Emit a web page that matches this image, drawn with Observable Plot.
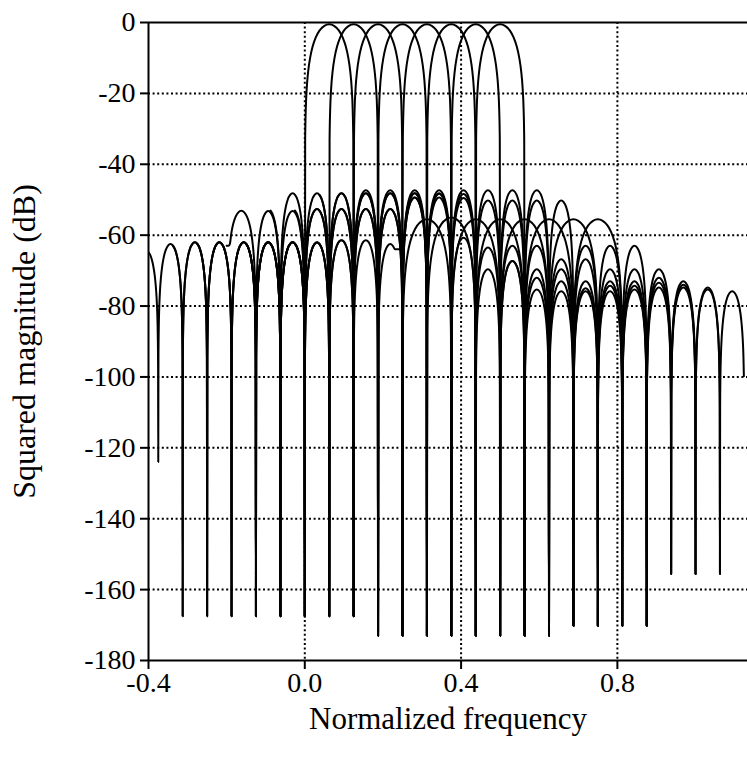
<!DOCTYPE html>
<html><head><meta charset="utf-8">
<script src="https://cdn.jsdelivr.net/npm/d3@7"></script>
<script src="https://cdn.jsdelivr.net/npm/@observablehq/plot@0.6"></script>
<style>body{margin:0;background:#fff}</style>
</head><body><div id="chart"></div>
<script>
// ---- axis ticks / grid ----
const xTicks = [-0.4, 0.0, 0.4, 0.8];
const yTicks = [0, -20, -40, -60, -80, -100, -120, -140, -160, -180];
const xGrid = [0.0, 0.4, 0.8];
const yGrid = [-20, -40, -60, -80, -100, -120, -140, -160];

// ---- null depths (frequency -> dB) ----
const nullFreq = [-0.4375,-0.375,-0.3125,-0.25,-0.1875,-0.125,-0.0625,0,0.0625,0.125,0.1875,0.25,0.3125,0.375,0.4375,0.5,0.5625,0.625,0.6875,0.75,0.8125,0.875,0.9375,1.0,1.0625,1.125];
const nullDb   = [-167.5,-124,-167.5,-167.5,-167.5,-167.5,-167.5,-167.5,-167.5,-167.5,-173,-173,-173,-173,-173,-173,-173,-173,-170.2,-170.2,-170.2,-170.2,-155.6,-155.6,-155.6,-160];

// ---- lobe shape template read from a sidelobe (relative position, drop in dB) ----
const lobeU    = [0.2, 0.4, 0.55, 0.68, 0.78, 0.86, 0.92, 0.96, 0.985];
const lobeDrop = [-0.45, -1.8, -3.7, -6.3, -9.4, -13.2, -18, -24, -32.6];

// ---- the eight channel responses: lobe edges (nulls) and lobe peaks (dB) ----
const c1Edges = [-0.4375,-0.375,-0.3125,-0.25,-0.1875,-0.125,-0.0625,0,0.125,0.1875,0.25,0.3125,0.375,0.4375,0.5,0.5625,0.625];
const c1Peaks = [-64.3,-62.5,-62,-62,-62,-62,-62,-0.5,-47.3,-47.3,-47.3,-47.3,-47.3,-47.3,-47.3,-47.3];
const c2Edges = [-0.375,-0.3125,-0.25,-0.1875,-0.125,-0.0625,0,0.0625,0.1875,0.25,0.375,0.5,0.625,0.75];
const c2Peaks = [-62.5,-62,-62,-62,-62,-62,-62.1,-0.5,-52.6,-55.5,-55.5,-55.5,-55.5];
const c3Edges = [-0.3125,-0.25,-0.1875,-0.125,-0.0625,0,0.0625,0.125,0.25,0.3125,0.4375,0.5625,0.6875,0.8125];
const c3Peaks = [-62,-62,-62,-62,-62,-62,-61.4,-0.5,-49.4,-55,-55.5,-55.5,-55.5];
const c4Edges = [[-0.2,-63],-0.125,-0.0625,0,0.0625,0.125,0.1875,0.3125,0.375,0.4375,0.5,0.5625,0.625,0.6875,0.75,0.8125,0.875];
const c4Peaks = [-53.1,-53.2,-53.2,-52.6,-52.6,-52.6,-0.5,-49.4,-49.5,-50.2,-50.2,-50.2,-50.2,-63,-63,-63];
const c5Edges = [-0.1875,-0.125,-0.0625,0,0.0625,0.125,0.1875,[0.25,-64],0.375,0.4375,0.5,0.5625,0.625,0.6875,0.75,0.8125,0.875,0.9375];
const c5Peaks = [-62,-62,-62,-62.1,-61.4,-61.4,-62.5,-0.5,-60.7,-63.5,-63,-63,-66.8,-66.8,-69.6,-69.6,-69.6];
const c6Edges = [-0.125,-0.0625,0,0.0625,0.125,0.1875,0.25,0.3125,0.4375,0.5,0.5625,0.625,0.6875,0.75,0.8125,0.875,0.9375,1.0];
const c6Peaks = [-52.6,-48.2,-48.2,-48.2,-48.2,-48.2,-48.2,-0.5,-69.6,-67.3,-69.6,-69.6,-73,-73,-73,-72,-73];
const c7Edges = [-0.0625,0,0.0625,0.125,0.1875,0.25,0.3125,0.375,0.5,0.5625,0.625,0.6875,0.75,0.8125,0.875,0.9375,1.0,1.0625];
const c7Peaks = [-52.6,-52.6,-52.6,-52.6,-52.6,-49.4,-48.3,-0.5,-67.3,-72,-73,-75,-74.3,-74.3,-73.4,-74,-74.8];
const c8Edges = [0,0.0625,0.125,0.1875,0.25,0.3125,0.375,0.4375,0.5625,0.625,0.6875,0.75,0.8125,0.875,0.9375,1.0,1.0625,1.125];
const c8Peaks = [-48.2,-48.2,-48.2,-48.2,-48.2,-48.2,-48.4,-0.5,-75.3,-75.8,-75.8,-75.8,-75.3,-74.8,-74.8,-75.3,-75.8];
const curveStart = [-0.4, -0.3375, -0.275, -0.2, -0.15, -0.0875, -0.025, 0.0375];
const curveEnd   = [0.625, 0.75, 0.8125, 0.875, 0.9375, 1.0, 1.0625, 1.124];

const curveDefs = [
  [c1Edges, c1Peaks], [c2Edges, c2Peaks], [c3Edges, c3Peaks], [c4Edges, c4Peaks],
  [c5Edges, c5Peaks], [c6Edges, c6Peaks], [c7Edges, c7Peaks], [c8Edges, c8Peaks]
];

function nullDepthAt(f) {
  const i = nullFreq.findIndex(n => Math.abs(n - f) < 1e-6);
  return i >= 0 ? nullDb[i] : -160;
}

function buildCurve(id, edges, peaks, start, end) {
  const E = edges.map(e => Array.isArray(e) ? e : [e, nullDepthAt(e)]);
  const pts = [];
  for (let i = 0; i < peaks.length; i++) {
    const [f0, d0] = E[i], [f1, d1] = E[i + 1];
    const c = (f0 + f1) / 2, h = (f1 - f0) / 2, P = peaks[i];
    if (i === 0) pts.push({f: f0, db: d0});
    for (let j = lobeU.length - 1; j >= 0; j--) pts.push({f: c - lobeU[j] * h, db: Math.max(P + lobeDrop[j], d0)});
    pts.push({f: c, db: P});
    for (let j = 0; j < lobeU.length; j++) pts.push({f: c + lobeU[j] * h, db: Math.max(P + lobeDrop[j], d1)});
    pts.push({f: f1, db: d1});
  }
  return pts.filter(p => p.f >= start - 1e-9 && p.f <= end + 1e-9).map(p => ({...p, curve: id}));
}

const table = curveDefs.flatMap(([e, p], i) => buildCurve(i + 1, e, p, curveStart[i], curveEnd[i]));

const dotted = {stroke: "black", strokeWidth: 2, strokeDasharray: "2,2.6"};

const chart = Plot.plot({
  width: 747,
  height: 760,
  marginLeft: 148,
  marginRight: 0,
  marginTop: 22,
  marginBottom: 100,
  style: {fontFamily: "'Liberation Serif', 'Times New Roman', serif", fontSize: "28px", color: "black", background: "white"},
  x: {domain: [-0.4, 1.133]},
  y: {domain: [-180, 0]},
  marks: [
    Plot.ruleY(yGrid, dotted),
    Plot.ruleX(xGrid, dotted),
    Plot.line(table, {x: "f", y: "db", z: "curve", stroke: "black", strokeWidth: 2, curve: "monotone-x", clip: true}),
    Plot.ruleY([0, -180], {stroke: "black", strokeWidth: 2}),
    Plot.ruleX([-0.4], {stroke: "black", strokeWidth: 2}),
    Plot.axisX({ticks: xTicks, tickFormat: d => d.toFixed(1), tickSize: 9, tickPadding: 3, strokeWidth: 2, label: null}),
    Plot.axisY({ticks: yTicks, tickFormat: d => String(d), tickSize: 8, tickPadding: 5, strokeWidth: 2, label: null}),
    Plot.text(["Normalized frequency"], {text: d => d, frameAnchor: "bottom", dy: 68, textAnchor: "middle", lineAnchor: "bottom", fontSize: 31}),
    Plot.text(["Squared magnitude (dB)"], {text: d => d, frameAnchor: "left", dx: -124, rotate: -90, textAnchor: "middle", fontSize: 32})
  ]
});
document.getElementById("chart").appendChild(chart);
</script></body></html>
